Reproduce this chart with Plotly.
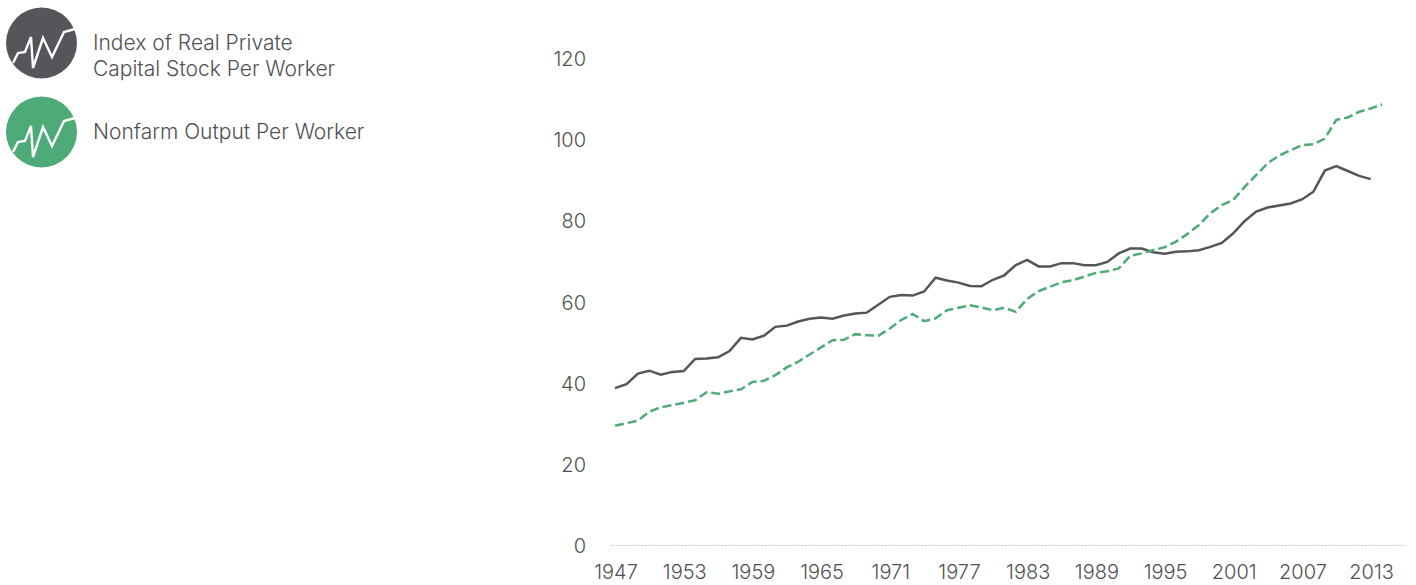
import plotly.graph_objects as go

W, H = 1416, 585
years_capital = list(range(1947, 2014))
capital = [38.9,39.9,42.5,43.2,42.2,42.9,43.1,46.1,46.2,46.5,48.05,51.3,50.9,51.8,54.0,54.3,55.3,56.0,56.3,56.0,
           56.8,57.3,57.5,59.4,61.4,61.85,61.7,62.7,66.1,65.4,64.9,64.05,64.0,65.6,66.7,69.2,70.5,68.9,68.9,69.7,
           69.7,69.2,69.2,70.0,72.1,73.3,73.3,72.4,72.0,72.5,72.6,72.9,73.7,74.7,77.05,80.1,82.4,83.4,83.9,84.4,
           85.4,87.3,92.5,93.6,92.4,91.2,90.4]
years_output = list(range(1947, 2015))
output = [29.65,30.2,30.9,33.1,34.2,34.7,35.3,35.9,37.9,37.5,38.1,38.6,40.4,40.7,42.1,44.0,45.4,47.1,49.0,50.7,
          50.8,52.2,51.9,51.8,53.6,55.7,57.2,55.4,56.1,58.1,58.7,59.3,58.8,58.1,58.7,57.7,60.9,62.8,63.9,65.0,
          65.5,66.4,67.3,67.7,68.4,71.5,72.1,72.9,73.6,75.0,76.9,79.1,82.0,84.0,85.3,88.5,91.4,94.3,96.2,97.6,
          98.8,99.0,100.4,105.0,105.6,107.0,107.8,108.8]
x_ticks = list(range(1947, 2014, 6))
y_ticks = [0, 20, 40, 60, 80, 100, 120]
DARK, GREEN, TEXT = "#54565a", "#4eab78", "#505154"
FONT = "Inter"
L, R, T, B = 611, 11, 59, 39

px_x = lambda p: (p - L) / (W - L - R)
px_y = lambda p: 1 - (p - T) / (H - T - B)

fig = go.Figure()
fig.add_trace(go.Scatter(x=years_capital, y=capital, mode="lines", line=dict(color=DARK, width=2.5)))
fig.add_trace(go.Scatter(x=years_output, y=output, mode="lines", line=dict(color=GREEN, width=2.5, dash="9px,4px")))

shapes = [dict(type="line", xref="paper", yref="y", x0=0, x1=1, y0=0, y1=0,
               line=dict(color="#666666", width=1, dash="1px,1.5px"), layer="below")]
zig = [(13,63),(18,53),(25,52),(31,37),(33,68),(43,38),(52,57),(64,32),(75,29)]
for cy, col in ((43, DARK), (132, GREEN)):
    shapes.append(dict(type="circle", xref="paper", yref="paper", x0=px_x(6), x1=px_x(77),
                       y0=px_y(cy+35.5), y1=px_y(cy-35.5), fillcolor=col, line=dict(width=0)))
    path = "M" + " L".join(f"{px_x(a):.5f},{px_y(b+cy-43):.5f}" for a, b in zig)
    shapes.append(dict(type="path", xref="paper", yref="paper", path=path, line=dict(color="white", width=2.4)))

ann = []
for text, cy in (("Index of Real Private", 42.5), ("Capital Stock Per Worker", 68.5), ("Nonfarm Output Per Worker", 132)):
    ann.append(dict(text=text, xref="paper", yref="paper", x=px_x(91), y=px_y(cy), xanchor="left", yanchor="middle",
                    showarrow=False, font=dict(family=FONT, size=21, color=TEXT, weight=300)))

fig.update_layout(
    width=W, height=H, margin=dict(l=L, r=R, t=T, b=B), plot_bgcolor="white", paper_bgcolor="white",
    showlegend=False, shapes=shapes, annotations=ann, font=dict(family=FONT, size=20, color=TEXT, weight=300),
    xaxis=dict(range=[1946.65, 2016], tickvals=x_ticks, ticktext=[str(v) for v in x_ticks], showgrid=False,
               zeroline=False, showline=False, ticks="", ticklabelstandoff=12, ticklabelshift=1, automargin=False),
    yaxis=dict(range=[0, 120], tickvals=y_ticks, showgrid=False, zeroline=False, showline=False, ticks="",
               ticklabelstandoff=24, automargin=False),
)
fig.write_html("out.html", post_script="document.body.style.margin='0';", config={"displayModeBar": False})
